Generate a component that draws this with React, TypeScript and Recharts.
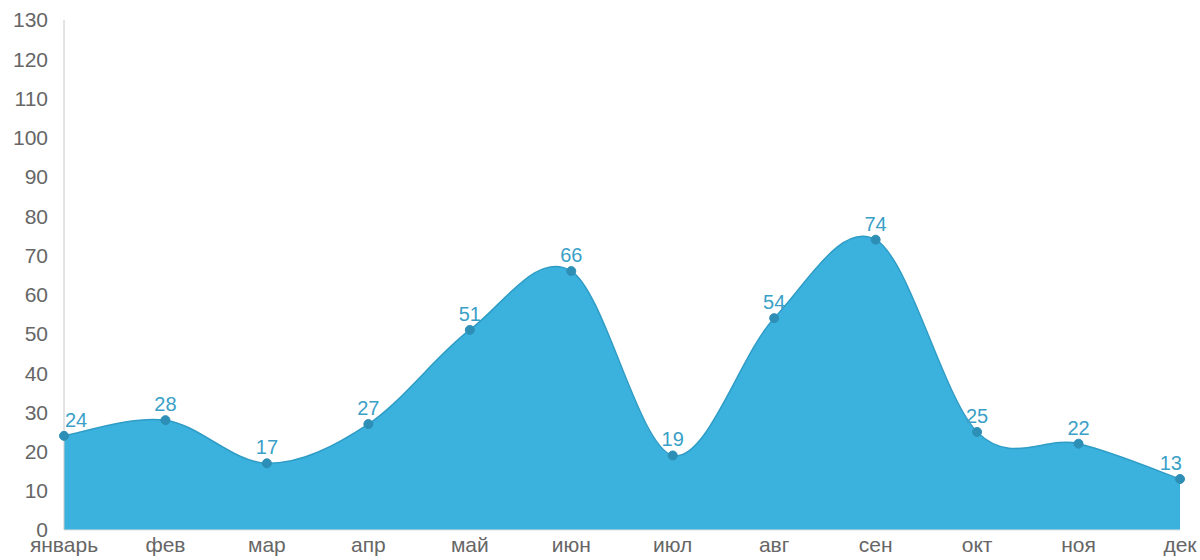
import React from "react";
import { AreaChart, Area, XAxis, YAxis, LabelList } from "recharts";

const months = ["январь", "фев", "мар", "апр", "май", "июн", "июл", "авг", "сен", "окт", "ноя", "дек"];
const values = [24, 28, 17, 27, 51, 66, 19, 54, 74, 25, 22, 13];
const yTicks = [0, 10, 20, 30, 40, 50, 60, 70, 80, 90, 100, 110, 120, 130];

const data = months.map((m, i) => ({ month: m, value: values[i] }));

const FONT = '"Liberation Sans", Arial, sans-serif';

// Catmull-Rom style cardinal curve (passes through points, mild overshoot)
class CardinalCurve {
  _context: any;
  _line: number = NaN;
  _xs: number[] = [];
  _ys: number[] = [];
  constructor(context: any) {
    this._context = context;
  }
  areaStart() { this._line = 0; }
  areaEnd() { this._line = NaN; }
  lineStart() { this._xs = []; this._ys = []; }
  point(x: number, y: number) { this._xs.push(+x); this._ys.push(+y); }
  lineEnd() {
    const xs = this._xs, ys = this._ys, n = xs.length;
    const ctx = this._context;
    if (n > 0) {
      if (this._line) ctx.lineTo(xs[0], ys[0]);
      else ctx.moveTo(xs[0], ys[0]);
      const k = 0.5;
      const mx: number[] = [], my: number[] = [];
      for (let i = 0; i < n; i++) {
        const a = Math.max(0, i - 1), b = Math.min(n - 1, i + 1);
        mx.push(k * (xs[b] - xs[a]));
        my.push(k * (ys[b] - ys[a]));
      }
      for (let i = 0; i < n - 1; i++) {
        ctx.bezierCurveTo(
          xs[i] + mx[i] / 3, ys[i] + my[i] / 3,
          xs[i + 1] - mx[i + 1] / 3, ys[i + 1] - my[i + 1] / 3,
          xs[i + 1], ys[i + 1]
        );
      }
    }
    if (this._line || (this._line !== 0 && n === 1)) ctx.closePath();
    this._line = 1 - this._line;
  }
}
const curveCardinal = (context: any) => new CardinalCurve(context);

const PointLabel = (props: any) => {
  const { x, y, value, index } = props;
  let anchor: "start" | "middle" | "end" = "middle";
  let dx = 0;
  if (index === 0) { anchor = "start"; dx = 1; }
  if (index === values.length - 1) { anchor = "end"; dx = 2; }
  return (
    <text x={x + dx} y={y - 9} textAnchor={anchor} fill="#3a9fc7" fontSize={20} fontFamily={FONT}>
      {value}
    </text>
  );
};

export default function App() {
  return (
    <div style={{ position: "absolute", left: 0, top: 0, background: "#fff" }}>
      <AreaChart width={1200} height={560} data={data} margin={{ top: 20, right: 20, bottom: 0, left: 0 }}>
        <XAxis
          dataKey="month"
          axisLine={{ stroke: "#e0e0e0" }}
          tickLine={false}
          height={30}
          interval={0}
          tick={{ fill: "#666", fontSize: 21, fontFamily: FONT }}
          tickMargin={1}
        />
        <YAxis
          width={64}
          domain={[0, 130]}
          ticks={yTicks}
          interval={0}
          axisLine={{ stroke: "#c8c8c8" }}
          tickLine={false}
          tick={{ fill: "#666", fontSize: 21, fontFamily: FONT }}
          tickMargin={10}
        />
        <Area
          type={curveCardinal as any}
          dataKey="value"
          stroke="#2f9cc6"
          strokeWidth={1.5}
          fill="#3bb2de"
          fillOpacity={1}
          dot={{ r: 4.5, fill: "#2e8fb6", stroke: "#2e8fb6", strokeWidth: 1 }}
          activeDot={false}
          isAnimationActive={false}
        >
          <LabelList dataKey="value" content={<PointLabel />} />
        </Area>
      </AreaChart>
    </div>
  );
}
